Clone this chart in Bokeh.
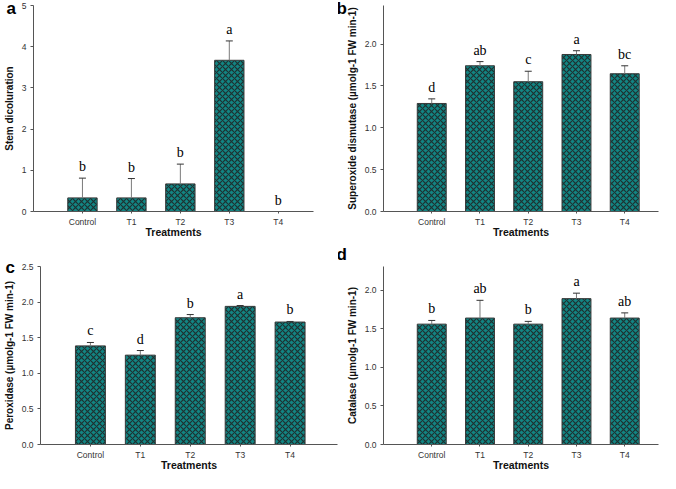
from bokeh.plotting import figure
from bokeh.models import Range1d, FixedTicker, Whisker, TeeHead, ColumnDataSource
from bokeh.layouts import column, row
from bokeh.embed import file_html
from bokeh.resources import INLINE
from bokeh.core.properties import value

categories = ["Control", "T1", "T2", "T3", "T4"]

stem_mean = [0.33, 0.33, 0.67, 3.67, 0.0]
stem_err = [0.48, 0.47, 0.48, 0.47, 0.0]
stem_letters = ["b", "b", "b", "a", "b"]

sod_mean = [1.29, 1.74, 1.55, 1.875, 1.645]
sod_err = [0.055, 0.05, 0.125, 0.045, 0.095]
sod_letters = ["d", "ab", "c", "a", "bc"]

pod_mean = [1.385, 1.255, 1.78, 1.94, 1.72]
pod_err = [0.048, 0.065, 0.045, 0.012, 0.008]
pod_letters = ["c", "d", "b", "a", "b"]

cat_mean = [1.562, 1.641, 1.562, 1.893, 1.641]
cat_err = [0.048, 0.23, 0.036, 0.071, 0.067]
cat_letters = ["b", "ab", "b", "a", "ab"]

stem_ticks = [0, 1, 2, 3, 4, 5]
enzyme_ticks = [0.0, 0.5, 1.0, 1.5, 2.0]
pod_ticks = [0.0, 0.5, 1.0, 1.5, 2.0, 2.5]

SANS = "Liberation Sans"
SERIF = "Liberation Serif"
TEAL = "#128583"
HATCH = "#1d3131"


def panel(tag, ylabel, means, errs, letters, y_end, yticks, fmt, x_end,
          width, height, bl, br, bt, bb, tag_dx, tag_standoff):
    xs = list(range(len(categories)))
    p = figure(width=width, height=height, output_backend="svg", toolbar_location=None,
               x_range=Range1d(-1.0, x_end), y_range=Range1d(0, y_end),
               min_border_left=bl, min_border_right=br, min_border_top=bt,
               min_border_bottom=bb, outline_line_color=None,
               title=tag, title_location="above")
    p.grid.visible = False
    p.background_fill_color = "white"
    p.title.align = "left"
    p.title.offset = tag_dx
    p.title.standoff = tag_standoff
    p.title.text_font = SANS
    p.title.text_font_style = "bold"
    p.title.text_font_size = "17px"
    p.title.text_color = "#000000"

    src = ColumnDataSource(dict(x=xs, top=means,
                                upper=[m + e for m, e in zip(means, errs)],
                                lab=letters))
    p.vbar(x="x", top="top", width=0.6, source=src, fill_color=TEAL,
           line_color="#3a3a3a", line_width=1, hatch_pattern="diagonal_cross",
           hatch_color=HATCH, hatch_scale=6, hatch_weight=1.2)

    keep = [i for i, e in enumerate(errs) if e > 0]
    wsrc = ColumnDataSource(dict(x=[xs[i] for i in keep],
                                 lower=[means[i] for i in keep],
                                 upper=[means[i] + errs[i] for i in keep]))
    w = Whisker(base="x", lower="lower", upper="upper", source=wsrc,
                line_color="#7a7a7a", line_width=1, lower_head=None,
                upper_head=TeeHead(size=7, line_color="#333333", line_width=1),
                level="overlay")
    p.add_layout(w)

    p.text(x="x", y="upper", text="lab", source=src, text_align="center",
           text_baseline="bottom", y_offset=-4, text_font=value(SERIF),
           text_font_size="14px", text_color="#000000")

    p.xaxis.ticker = FixedTicker(ticks=xs)
    p.xaxis.major_label_overrides = {i: c for i, c in zip(xs, categories)}
    p.xaxis.axis_label = "Treatments"
    p.yaxis.axis_label = ylabel
    p.yaxis.ticker = FixedTicker(ticks=yticks)
    p.yaxis.major_label_overrides = {t: fmt.format(t) for t in yticks}
    for ax in (p.xaxis, p.yaxis):
        ax.axis_line_color = "#555555"
        ax.major_tick_line_color = "#555555"
        ax.minor_tick_line_color = None
        ax.major_tick_in = 0
        ax.major_label_text_font = SANS
        ax.major_label_text_font_size = "8.5px"
        ax.major_label_text_color = "#333333"
        ax.axis_label_text_font = SANS
        ax.axis_label_text_font_style = "bold"
        ax.axis_label_text_color = "#111111"
    p.xaxis.major_tick_out = 2
    p.xaxis.major_label_standoff = 3
    p.xaxis.axis_label_standoff = -4
    p.xaxis.axis_label_text_font_size = "10.5px"
    p.yaxis.major_tick_out = 3
    p.yaxis.major_label_standoff = 4
    p.yaxis.axis_label_standoff = 4
    p.yaxis.axis_label_text_font_size = "10px"
    return p


pa = panel("a", "Stem dicoluration", stem_mean, stem_err, stem_letters,
           5.0, stem_ticks, "{:.0f}", 4.72, 338, 240, 29, 25, 5, 28, -27, -24)
pb = panel("b", "Superoxide dismutase (µmolg-1 FW min-1)", sod_mean, sod_err,
           sod_letters, 2.46, enzyme_ticks, "{:.1f}", 4.7, 322, 240, 45, 2, 3, 28, -47, -25)
pc = panel("c", "Peroxidase (µmolg-1 FW min-1)", pod_mean, pod_err, pod_letters,
           2.5, pod_ticks, "{:.1f}", 4.95, 338, 233, 37, 1, 7, 28, -35, -20)
pd = panel("d", "Catalase (µmolg-1 FW min-1)", cat_mean, cat_err, cat_letters,
           2.31, enzyme_ticks, "{:.1f}", 4.7, 322, 233, 45, 2, 22, 28, -47, 5)

layout = column(row(pa, pb), row(pc, pd))

open("out.html", "w").write(file_html(layout, INLINE))
